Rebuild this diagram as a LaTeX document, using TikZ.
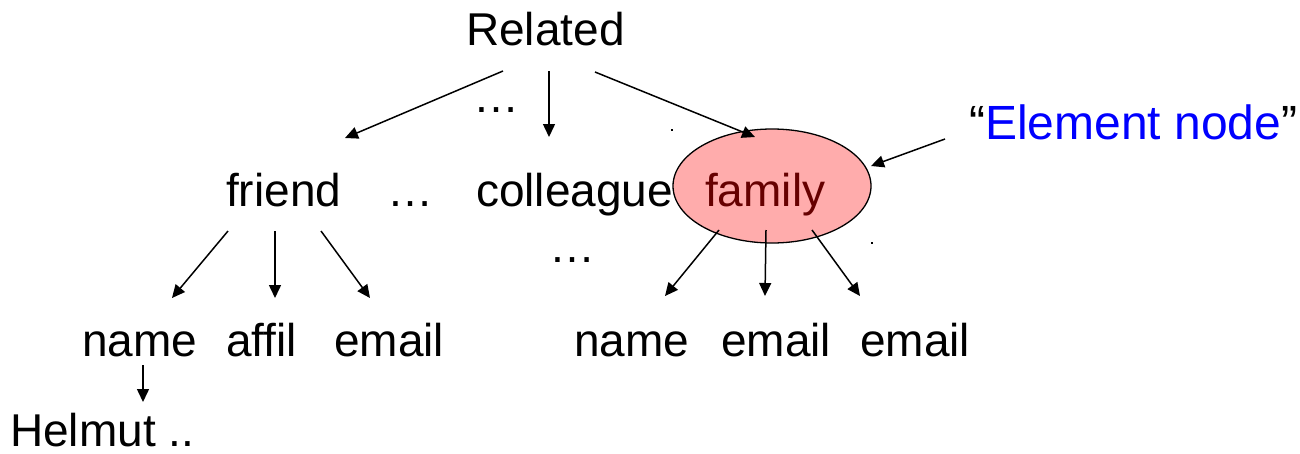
\documentclass[tikz,border=0pt]{standalone}
\usepackage{fontspec}
\setmainfont{Liberation Sans}
\usetikzlibrary{arrows.meta,shapes.geometric,calc}
\definecolor{pinkfill}{RGB}{255,172,172}
\definecolor{famtext}{RGB}{102,0,0}
\definecolor{labblue}{RGB}{0,0,255}
\begin{document}
\begin{tikzpicture}[x=1pt,y=-1pt,
  word/.style={inner sep=0pt,anchor=base west,font=\fontsize{46}{55}\selectfont},
  dots/.style={inner sep=0pt,anchor=base,font=\fontsize{46}{55}\selectfont},
  arr/.style={line width=1.5pt,-{Triangle[length=13pt,width=12pt]}},
  speck/.style={fill=black,inner sep=0pt,minimum size=2pt,shape=rectangle}]
\useasboundingbox (0,0) rectangle (1300,453);
% element node ellipse
\node[ellipse,draw=black,line width=1.3pt,fill=pinkfill,minimum width=198pt,minimum height=114pt,inner sep=0pt] (famell) at (772,186) {};
% texts
\node[word] (related) at (466,45) {Related};
\node[dots] (dtop) at (496,112) {…};
\node[word] (friend) at (226,206) {friend};
\node[dots] (dmid) at (410,206) {…};
\node[word] (colleague) at (476,206) {colleague};
\node[word,text=famtext] (family) at (705,206) {family};
\node[dots] (dlow) at (572,262) {…};
\node[word,font=\fontsize{48}{57}\selectfont] (elem) at (969,139) {“\textcolor{labblue}{Element node}”};
\node[word] (lname) at (82,356) {name};
\node[word] (laffil) at (226,356) {affil};
\node[word] (lemail) at (334,356) {email};
\node[word] (rname) at (574,356) {name};
\node[word] (remail) at (721,356) {email};
\node[word] (remailb) at (860,356) {email};
\node[word] (helmut) at (10,446) {Helmut ..};
% specks
\node[speck] (s1) at (672,130) {};
\node[speck] (s2) at (872,243) {};
% arrows from Related
\draw[arr] ([shift={(37,26)}]related.base west) -- ([shift={(119,-68)}]friend.base west);
\draw[arr] ([shift={(83,26)}]related.base west) -- ([shift={(83,92)}]related.base west);
\draw[arr] ([shift={(129,27)}]related.base west) -- ([shift={(-17,-49)}]famell.center);
% arrow from label
\draw[arr] ([shift={(-24,0)}]elem.base west) -- ([shift={(99,-20)}]famell.center);
% arrows from friend
\draw[arr] ([shift={(2,25)}]friend.base west) -- ([shift={(90,-58)}]lname.base west);
\draw[arr] ([shift={(49,25)}]friend.base west) -- ([shift={(49,-58)}]laffil.base west);
\draw[arr] ([shift={(95,25)}]friend.base west) -- ([shift={(36,-58)}]lemail.base west);
% arrows from family
\draw[arr] ([shift={(-53,44)}]famell.center) -- ([shift={(91,-60)}]rname.base west);
\draw[arr] ([shift={(-6,44)}]famell.center) -- ([shift={(44,-60)}]remail.base west);
\draw[arr] ([shift={(40,44)}]famell.center) -- ([shift={(0,-60)}]remailb.base west);
% name to Helmut
\draw[arr] ([shift={(61,9)}]lname.base west) -- ([shift={(133,-44)}]helmut.base west);
\end{tikzpicture}
\end{document}
